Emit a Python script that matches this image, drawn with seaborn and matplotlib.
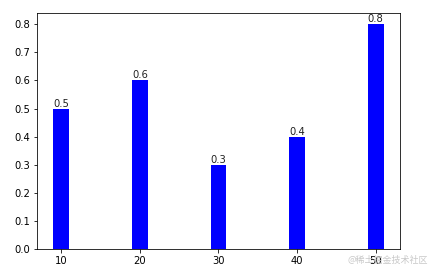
import matplotlib
matplotlib.use("Agg")
import matplotlib.pyplot as plt
import seaborn as sns
import pandas as pd

x_values = [10, 20, 30, 40, 50]
heights = [0.5, 0.6, 0.3, 0.4, 0.8]
bar_labels = ["0.5", "0.6", "0.3", "0.4", "0.8"]
watermark = "@稀土掘金技术社区"

df = pd.DataFrame({"x": x_values, "y": heights})

fig = plt.figure(figsize=(436 / 72, 274 / 72), dpi=72)
ax = fig.add_axes([37 / 436, 1 - 249 / 274, 363 / 436, 236 / 274])
sns.barplot(data=df, x="x", y="y", native_scale=True, width=0.2,
            color="blue", saturation=1, edgecolor="none", linewidth=0, ax=ax)
ax.bar_label(ax.containers[0], labels=bar_labels, padding=0, fontsize=10, color="#222222")
ax.set_xlim(6.9, 53.1)
ax.set_ylim(0, 0.84)
ax.set_xticks(x_values)
ax.set_yticks([0.0, 0.1, 0.2, 0.3, 0.4, 0.5, 0.6, 0.7, 0.8])
ax.set_xlabel("")
ax.set_ylabel("")
ax.tick_params(labelsize=10)
for s in ax.spines.values():
    s.set_visible(True)
    s.set_color("black")
    s.set_linewidth(0.8)

fig.text(0.982, 0.05, watermark, ha="right", va="center", fontsize=9,
         color="#c8c8c8", family=["Noto Sans CJK SC", "DejaVu Sans"])
fig.savefig("out.png", dpi=72)
